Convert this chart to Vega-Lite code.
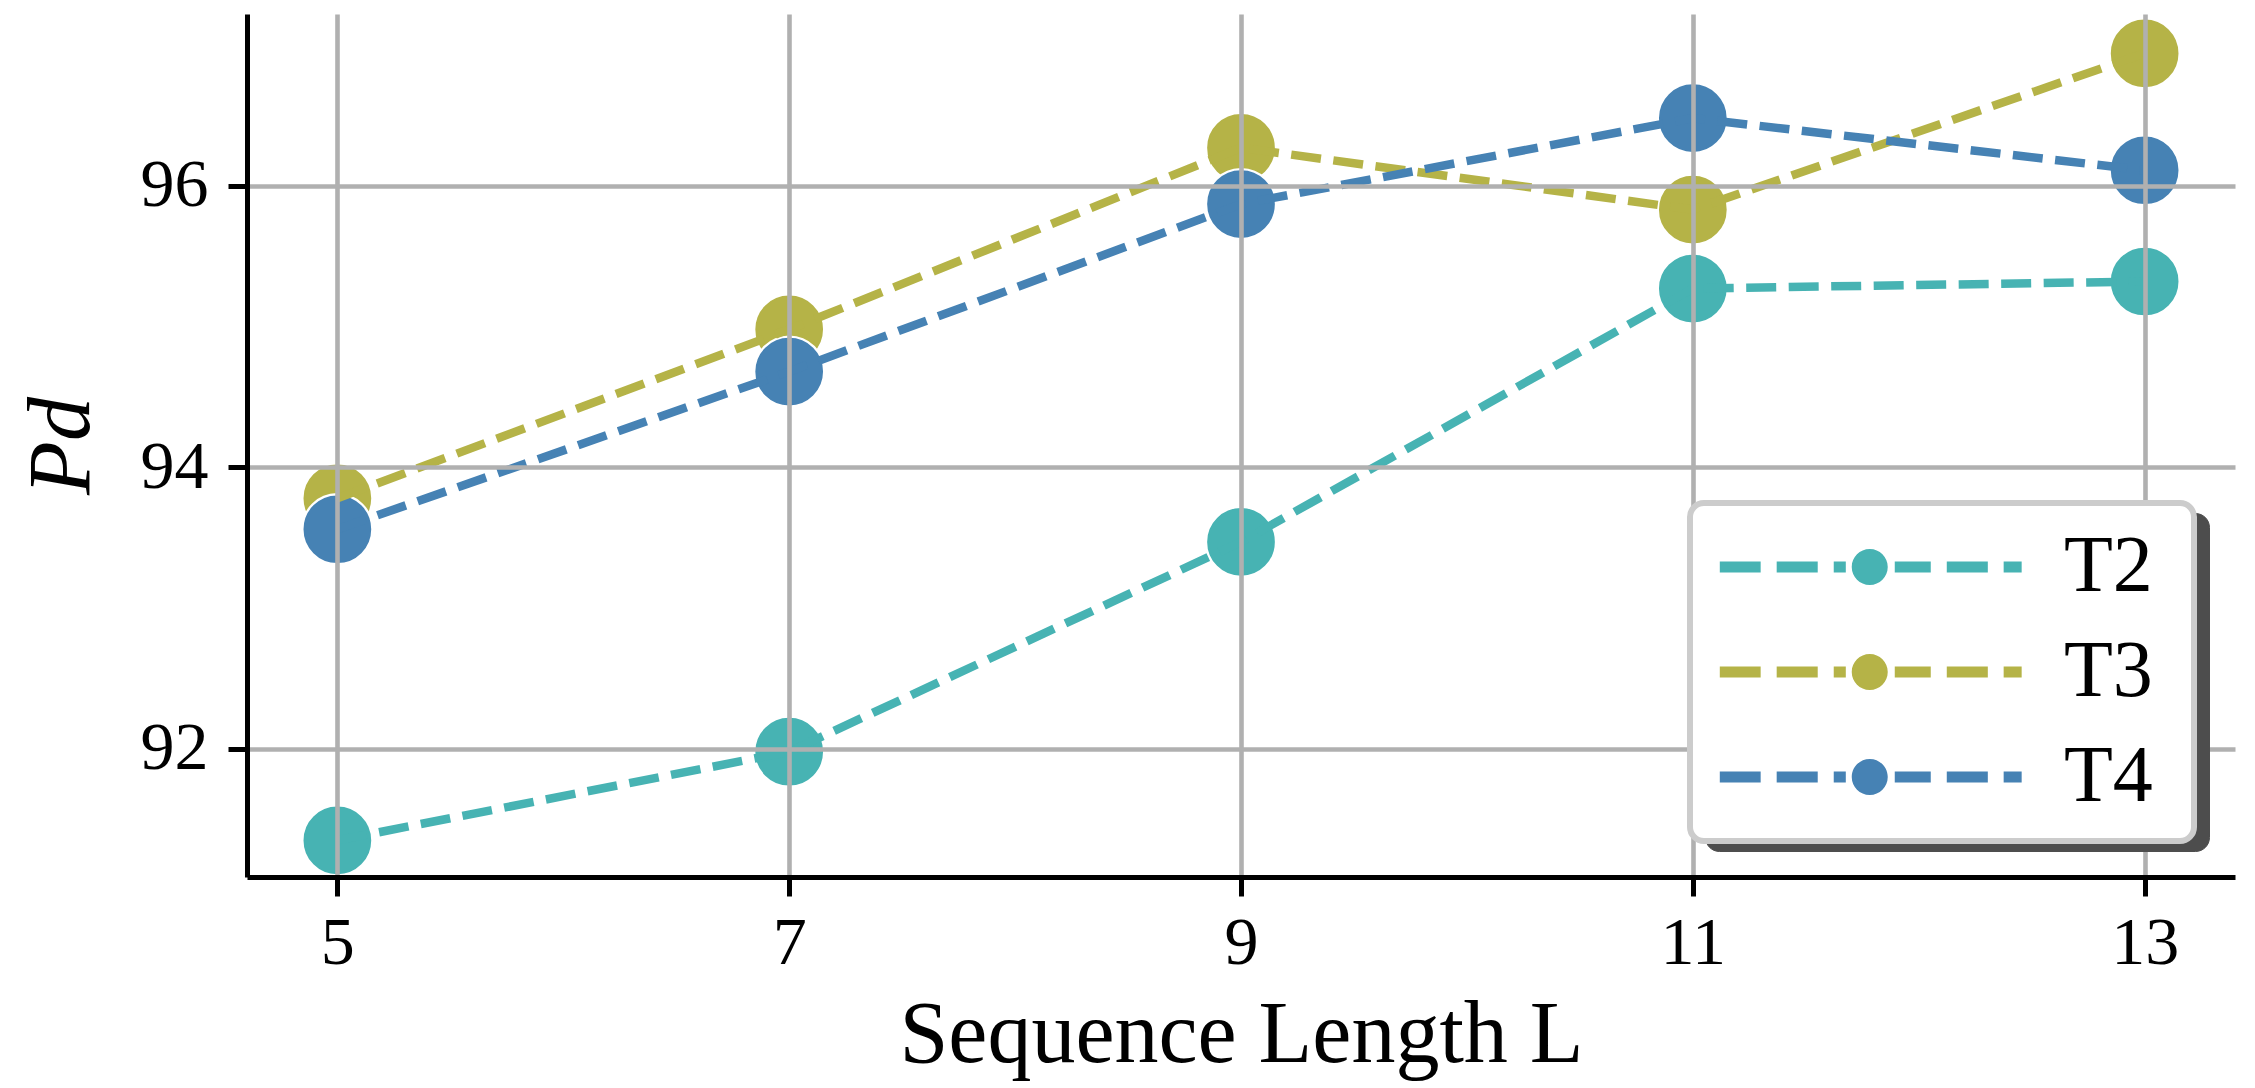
{
  "$schema": "https://vega.github.io/schema/vega-lite/v6.json",
  "width": 1988,
  "height": 863,
  "autosize": {"type": "none"},
  "padding": {"left": 247, "top": 14, "right": 20, "bottom": 211},
  "background": "white",
  "view": {"stroke": null},
  "config": {"font": "Liberation Serif"},
  "data": {
    "values": [
      {"L": 5, "series": "T2", "Pd": 91.35},
      {"L": 7, "series": "T2", "Pd": 91.98},
      {"L": 9, "series": "T2", "Pd": 93.47},
      {"L": 11, "series": "T2", "Pd": 95.27},
      {"L": 13, "series": "T2", "Pd": 95.32},
      {"L": 5, "series": "T3", "Pd": 93.78},
      {"L": 7, "series": "T3", "Pd": 94.98},
      {"L": 9, "series": "T3", "Pd": 96.27},
      {"L": 11, "series": "T3", "Pd": 95.83},
      {"L": 13, "series": "T3", "Pd": 96.94},
      {"L": 5, "series": "T4", "Pd": 93.56},
      {"L": 7, "series": "T4", "Pd": 94.68},
      {"L": 9, "series": "T4", "Pd": 95.87},
      {"L": 11, "series": "T4", "Pd": 96.48},
      {"L": 13, "series": "T4", "Pd": 96.11}
    ]
  },
  "encoding": {
    "x": {
      "field": "L",
      "type": "quantitative",
      "scale": {"domain": [4.6, 13.4], "nice": false, "zero": false},
      "axis": {
        "values": [5, 7, 9, 11, 13],
        "title": "Sequence Length L",
        "grid": true,
        "gridColor": "#b0b0b0",
        "gridWidth": 4.6,
        "gridOpacity": 1,
        "domainColor": "black",
        "domainWidth": 5,
        "tickColor": "black",
        "tickWidth": 5,
        "tickSize": 19,
        "labelFontSize": 68,
        "labelColor": "black",
        "labelPadding": 13,
        "labelAngle": 0,
        "labelFlush": false,
        "titleFontSize": 88,
        "titleFontWeight": "normal",
        "titleColor": "black",
        "titlePadding": 14,
        "zindex": 1
      }
    },
    "y": {
      "field": "Pd",
      "type": "quantitative",
      "scale": {"domain": [91.09, 97.22], "nice": false, "zero": false},
      "axis": {
        "values": [92, 94, 96],
        "title": "Pd",
        "grid": true,
        "gridColor": "#b0b0b0",
        "gridWidth": 4.6,
        "gridOpacity": 1,
        "domainColor": "black",
        "domainWidth": 5,
        "tickColor": "black",
        "tickWidth": 5,
        "tickSize": 19,
        "labelFontSize": 68,
        "labelColor": "black",
        "labelPadding": 20,
        "labelFlush": false,
        "titleFontSize": 88,
        "titleFontWeight": "normal",
        "titleFontStyle": "italic",
        "titleColor": "black",
        "titleBaseline": "alphabetic",
        "titlePadding": 52,
        "zindex": 1
      }
    },
    "color": {
      "field": "series",
      "type": "nominal",
      "scale": {"domain": ["T2", "T3", "T4"], "range": ["#47b3b3", "#b5b347", "#4682b4"]},
      "legend": {
        "title": null,
        "orient": "none",
        "legendX": 1443,
        "legendY": 489,
        "fillColor": "white",
        "strokeColor": "#cccccc",
        "cornerRadius": 14,
        "padding": 24,
        "rowPadding": 25,
        "labelFontSize": 80,
        "labelColor": "black",
        "labelOffset": 270,
        "symbolSize": 1296,
        "symbolStrokeWidth": 0,
        "symbolOpacity": 1,
        "symbolType": "M-2.23,0Z M-1.9,-0.3H0.37V0.3H-1.9Z M1.26,-0.3H3.54V0.3H1.26Z M4.43,-0.3H5.1V0.3H4.43Z M7.82,-0.3H9.82V0.3H7.82Z M10.71,-0.3H12.99V0.3H10.71Z M13.87,-0.3H14.87V0.3H13.87Z M5.43,0A1,1 0 1,0 7.43,0A1,1 0 1,0 5.43,0Z M23.1,0Z",
        "zindex": 3,
        "encode": {"legend": {"update": {"strokeWidth": {"value": 6}}}}
      }
    }
  },
  "layer": [
    {
      "mark": {"type": "point", "shape": "circle", "filled": true, "size": 4900, "stroke": "white", "strokeWidth": 2.3},
      "encoding": {
        "opacity": {
          "field": "series",
          "type": "nominal",
          "scale": {"domain": ["T2", "T3", "T4"], "range": [1, 1, 1]},
          "legend": {
            "title": null,
            "orient": "bottom-right",
            "offset": 26,
            "fillColor": "#4d4d4d",
            "strokeColor": "#4d4d4d",
            "cornerRadius": 14,
            "padding": 24,
            "rowPadding": 25,
            "labelFontSize": 80,
            "labelColor": "#4d4d4d",
            "labelOffset": 270,
            "labelExpr": "''",
            "symbolSize": 1296,
            "symbolStrokeWidth": 0,
            "symbolFillColor": "#4d4d4d",
            "symbolStrokeColor": "#4d4d4d",
            "symbolType": "M-2.23,0Z M-1.9,-0.3H0.37V0.3H-1.9Z M1.26,-0.3H3.54V0.3H1.26Z M4.43,-0.3H5.1V0.3H4.43Z M7.82,-0.3H9.82V0.3H7.82Z M10.71,-0.3H12.99V0.3H10.71Z M13.87,-0.3H14.87V0.3H13.87Z M5.43,0A1,1 0 1,0 7.43,0A1,1 0 1,0 5.43,0Z M23.1,0Z",
            "zindex": 2
          }
        }
      }
    },
    {
      "mark": {"type": "line", "strokeWidth": 8.5, "strokeDash": [30, 12.5], "strokeCap": "butt"}
    }
  ]
}
